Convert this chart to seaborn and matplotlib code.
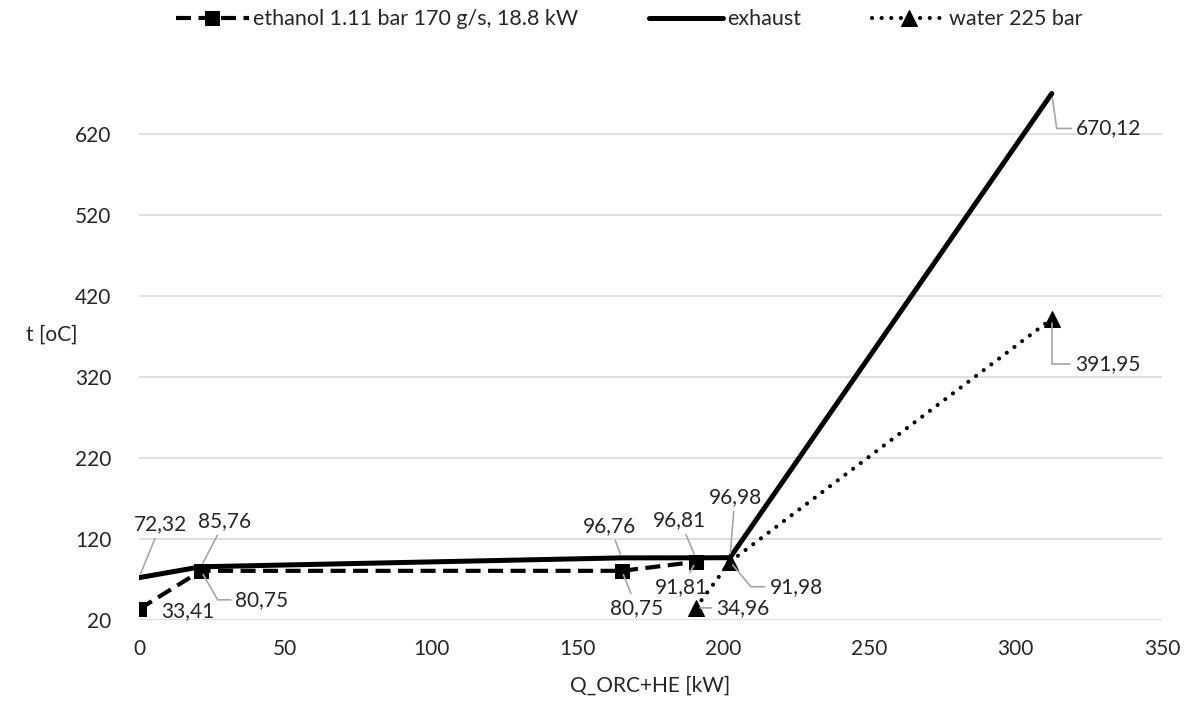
"""
plot.py - ethanol / exhaust / water temperature vs heat flow (Q-t diagram)
"""
import matplotlib
matplotlib.use("Agg")
import matplotlib.pyplot as plt
import pandas as pd
import seaborn as sns

# data
ethanol_q = [0, 21.2, 165.2, 190.5]
ethanol_t = [33.41, 80.75, 80.75, 91.81]
exhaust_q = [0, 21.2, 165.2, 190.5, 202.2, 312.3]
exhaust_t = [72.32, 85.76, 96.76, 96.81, 96.98, 670.12]
water_q = [190.5, 202.2, 312.3]
water_t = [34.96, 91.98, 391.95]

ethanol_name = "ethanol 1.11 bar 170 g/s, 18.8 kW"
exhaust_name = "exhaust"
water_name = "water 225 bar"

x_ticks = [0, 50, 100, 150, 200, 250, 300, 350]
y_ticks = [20, 120, 220, 320, 420, 520, 620]

sns.set_theme(style="white")
plt.rcParams["font.family"] = ["Lato", "DejaVu Sans"]
TXT = "#262626"
GRID = "#d9d9d9"
LEAD = "#a6a6a6"

fig = plt.figure(figsize=(11.92, 7.07), dpi=100)
ax = fig.add_axes([0.1166, 0.123, 0.8582, 0.779])

df_eth = pd.DataFrame({"q": ethanol_q, "t": ethanol_t})
df_exh = pd.DataFrame({"q": exhaust_q, "t": exhaust_t})
df_wat = pd.DataFrame({"q": water_q, "t": water_t})

sns.lineplot(data=df_eth, x="q", y="t", ax=ax, color="black", lw=3,
             marker="s", markersize=10, markeredgecolor="black",
             label=ethanol_name, sort=False, zorder=3)
sns.lineplot(data=df_exh, x="q", y="t", ax=ax, color="black", lw=3.6,
             label=exhaust_name, sort=False, zorder=2)
sns.lineplot(data=df_wat, x="q", y="t", ax=ax, color="black", lw=3,
             marker="^", markersize=11, markeredgecolor="black",
             label=water_name, sort=False, zorder=3)

lines = ax.get_lines()
lines[0].set_linestyle((0, (3.6, 1.8)))
lines[2].set_linestyle((0, (0.01, 2.3)))
lines[2].set_dash_capstyle("round")
lines[1].set_solid_capstyle("round")

# data labels: (x, y, dx, dy in pixels, down positive, leader: None / "line" / angle)
labels = [
    (ethanol_q[0], ethanol_t[0], 49, 2, None),
    (ethanol_q[1], ethanol_t[1], 61, 29, -60),
    (ethanol_q[2], ethanol_t[2], 15, 37, "line"),
    (ethanol_q[3], ethanol_t[3], -14, 25, "line"),
    (exhaust_q[0], exhaust_t[0], 22, -54, "line"),
    (exhaust_q[1], exhaust_t[1], 24, -46, "line"),
    (exhaust_q[2], exhaust_t[2], -12, -32, "line"),
    (exhaust_q[3], exhaust_t[3], -16, -38, "line"),
    (exhaust_q[4], exhaust_t[4], 5, -61, "line"),
    (exhaust_q[5], exhaust_t[5], 57, 35, -82),
    (water_q[0], water_t[0], 47, 0, "line"),
    (water_q[1], water_t[1], 66, 25, -50),
    (water_q[2], water_t[2], 56, 45, 90),
]
for x, y, dx, dy, lead in labels:
    txt = f"{y:.2f}".replace(".", ",")
    props = None
    if lead is not None:
        props = dict(arrowstyle="-", color=LEAD, lw=1.2, shrinkA=1, shrinkB=3)
        if lead != "line":
            props["connectionstyle"] = f"angle,angleA=0,angleB={lead},rad=0"
    ax.annotate(txt, xy=(x, y), xytext=(dx, -dy), textcoords="offset pixels",
                ha="center", va="center", fontsize=15, color=TXT,
                arrowprops=props, zorder=5)

ax.set_xlim(0, 350)
ax.set_ylim(20, 700)
ax.set_xticks(x_ticks)
ax.set_yticks(y_ticks)
ax.tick_params(axis="both", length=0, labelsize=15, colors=TXT)
ax.tick_params(axis="x", pad=14)
ax.tick_params(axis="y", pad=20)
ax.grid(axis="y", color=GRID, lw=1.2)
ax.grid(axis="x", visible=False)
ax.set_axisbelow(True)
for s in ax.spines.values():
    s.set_visible(False)

ax.set_xlabel("Q_ORC+HE [kW]", fontsize=15, color=TXT, labelpad=12)
ax.set_ylabel("t [oC]", fontsize=15, color=TXT, rotation=0, labelpad=0)
ax.yaxis.set_label_coords(-0.085, 0.5)

handles, names = ax.get_legend_handles_labels()
ax.get_legend().remove()
fig.legend(handles, names, loc="center", bbox_to_anchor=(0.528, 0.973), ncol=3,
           frameon=False, fontsize=15.5, handlelength=3.4, handletextpad=0.2,
           columnspacing=3.3, labelcolor=TXT)

plt.savefig("out.png", dpi=100)
plt.close()
